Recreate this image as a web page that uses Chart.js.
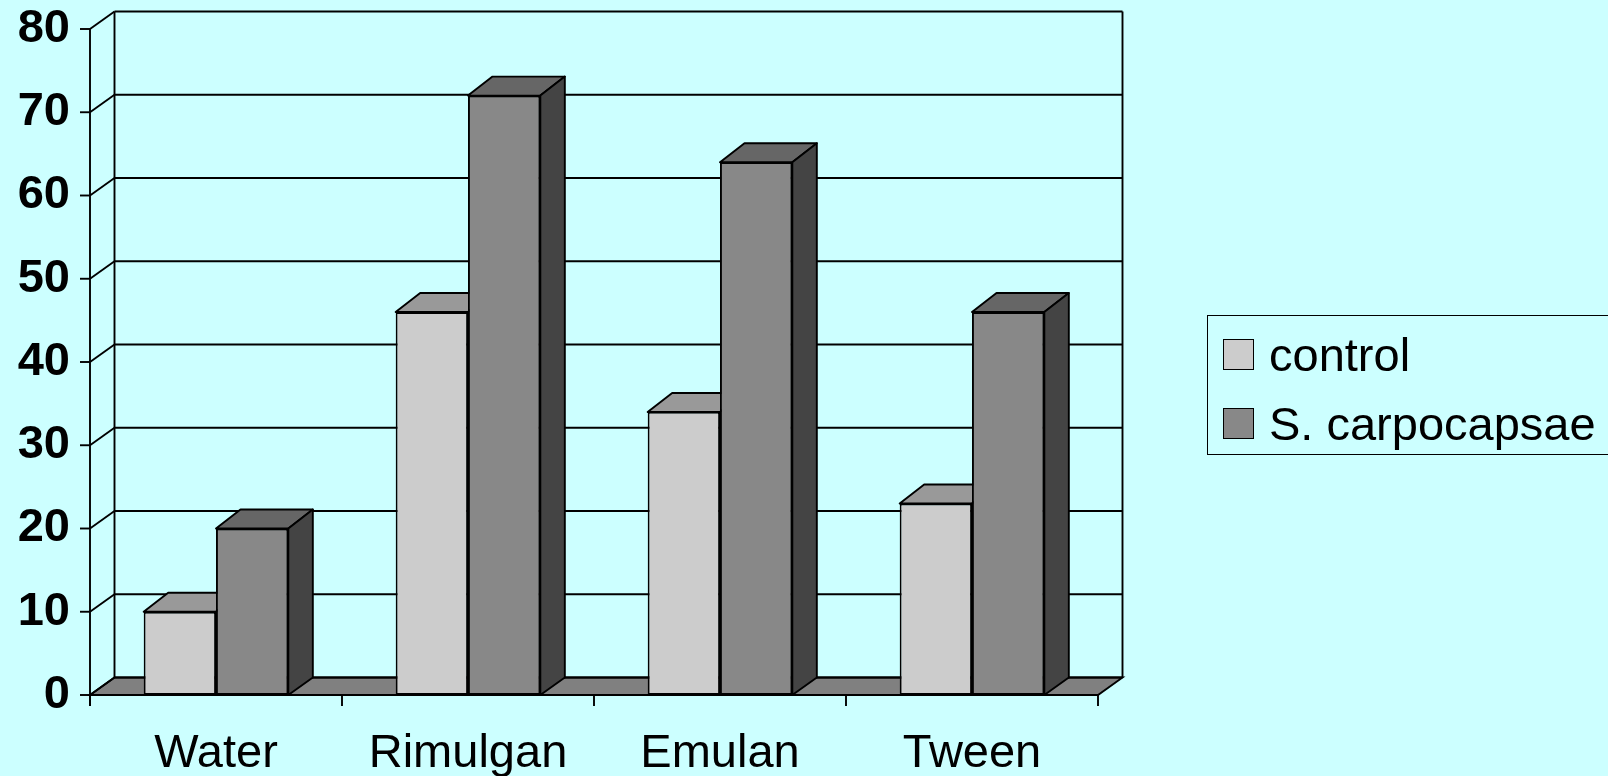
<!DOCTYPE html>
<html>
<head>
<meta charset="utf-8">
<script src="https://cdn.jsdelivr.net/npm/chart.js@4.4.1/dist/chart.umd.min.js"></script>
<style>
    body { margin: 0; background: #ccffff; overflow: hidden; font-family: "Liberation Sans", Arial, sans-serif; }
    #wrap { position: relative; width: 1608px; height: 776px; }
    #legend { position: absolute; left: 1207px; top: 315px; width: 430px; height: 140px; border: 1.5px solid #000; box-sizing: border-box; }
    .item { position: absolute; left: 15px; height: 31px; display: flex; align-items: center; font-size: 47px; white-space: nowrap; }
    .sw { width: 29px; height: 29px; border: 1px solid #000; margin-right: 15px; flex: none; }
</style>
</head>
<body>
<div id="wrap">
    <canvas id="chart"></canvas>
    <div id="legend"></div>
</div>
<script>
const categories = ["Water", "Rimulgan", "Emulan", "Tween"];
const control = [10, 46, 34, 23];
const carpocapsae = [20, 72, 64, 46];
const yMin = 0;
const yMax = 80;
const yStep = 10;

const DX = 24.5;    // depth offset of walls / floor
const DY = -17.5;
const BAR_DY = -19; // depth offset at bar tops
const LW = 1.9;

function line(ctx, x1, y1, x2, y2) {
    ctx.beginPath();
    ctx.moveTo(x1, y1);
    ctx.lineTo(x2, y2);
    ctx.stroke();
}

function poly(ctx, pts, fill) {
    ctx.beginPath();
    ctx.moveTo(pts[0][0], pts[0][1]);
    for (let i = 1; i < pts.length; i++) ctx.lineTo(pts[i][0], pts[i][1]);
    ctx.closePath();
    ctx.fillStyle = fill;
    ctx.fill();
    ctx.stroke();
}

function drawFaces(ctx, bar, ds) {
    const p = bar.getProps(["x", "y", "base", "width"], true);
    const l = p.x - p.width / 2;
    const r = p.x + p.width / 2;
    poly(ctx, [[l, p.y], [l + DX, p.y + BAR_DY], [r + DX, p.y + BAR_DY], [r, p.y]], ds.topColor);
    poly(ctx, [[r, p.y], [r + DX, p.y + BAR_DY], [r + DX, p.base + DY], [r, p.base]], ds.sideColor);
}

const box3d = {
    id: "box3d",
    beforeDatasetsDraw(chart) {
        const ctx = chart.ctx;
        const a = chart.chartArea;
        const xs = chart.scales.x;
        const ys = chart.scales.y;
        ctx.save();
        ctx.strokeStyle = "#000";
        ctx.lineWidth = LW;

        // floor
        poly(ctx, [[a.left, a.bottom], [a.right, a.bottom], [a.right + DX, a.bottom + DY], [a.left + DX, a.bottom + DY]], "#808080");

        // back wall grid, side wall diagonals, tick marks
        ys.ticks.forEach(t => {
            const py = ys.getPixelForValue(t.value);
            line(ctx, a.left + DX, py + DY, a.right + DX, py + DY);
            line(ctx, a.left, py, a.left + DX, py + DY);
            line(ctx, a.left - 10, py, a.left, py);
        });

        line(ctx, a.left, a.top, a.left, a.bottom + 11);
        line(ctx, a.left + DX, a.top + DY, a.left + DX, a.bottom + DY);
        line(ctx, a.right + DX, a.top + DY, a.right + DX, a.bottom + DY);

        // category separators below the floor
        const n = categories.length;
        const w = (xs.right - xs.left) / n;
        for (let i = 0; i <= n; i++) {
            line(ctx, xs.left + i * w, a.bottom, xs.left + i * w, a.bottom + 11);
        }
        ctx.restore();
    },
    afterDatasetsDraw(chart) {
        const ctx = chart.ctx;
        ctx.save();
        ctx.strokeStyle = "#000";
        ctx.lineWidth = LW;
        ctx.lineJoin = "round";
        // control first, then the taller S. carpocapsae bars in front of its faces
        chart.data.datasets.forEach((ds, i) => {
            const meta = chart.getDatasetMeta(i);
            meta.data.forEach(bar => {
                if (i > 0) {
                    ctx.save();
                    bar.draw(ctx);
                    ctx.restore();
                }
                drawFaces(ctx, bar, ds);
            });
        });
        ctx.restore();
    }
};

const datasets = [
    { label: "control", data: control, backgroundColor: "#cccccc", topColor: "#999999", sideColor: "#666666" },
    { label: "S. carpocapsae", data: carpocapsae, backgroundColor: "#888888", topColor: "#666666", sideColor: "#444444" }
];

new Chart(document.getElementById("chart"), {
    type: "bar",
    data: {
        labels: categories,
        datasets: datasets.map(d => ({
            label: d.label,
            data: d.data,
            backgroundColor: d.backgroundColor,
            borderColor: "#000",
            borderWidth: LW,
            borderSkipped: false,
            topColor: d.topColor,
            sideColor: d.sideColor,
            categoryPercentage: 0.574,
            barPercentage: 1
        }))
    },
    options: {
        responsive: true,
        maintainAspectRatio: false,
        animation: false,
        layout: { padding: { top: 29, right: 510, bottom: 0, left: 0 } },
        plugins: {
            legend: { display: false },
            tooltip: { enabled: false }
        },
        scales: {
            x: {
                grid: { display: false, drawTicks: false },
                border: { display: false },
                ticks: {
                    color: "#000",
                    padding: 31,
                    font: { family: "'Liberation Sans', Arial, sans-serif", size: 47 }
                },
                afterFit(scale) {
                    scale.height = 81;
                    scale.paddingLeft = 0;
                    scale.paddingRight = 0;
                }
            },
            y: {
                min: yMin,
                max: yMax,
                grid: { display: false, drawTicks: false },
                border: { display: false },
                ticks: {
                    stepSize: yStep,
                    color: "#000",
                    padding: 20,
                    font: { family: "'Liberation Sans', Arial, sans-serif", size: 47, weight: "bold" }
                },
                afterFit(scale) {
                    scale.width = 90;
                    scale.paddingTop = 0;
                    scale.paddingBottom = 0;
                }
            }
        }
    },
    plugins: [box3d]
});

// legend
const legend = document.getElementById("legend");
datasets.forEach((d, i) => {
    const item = document.createElement("div");
    item.className = "item";
    item.style.top = (23 + i * 69) + "px";
    const sw = document.createElement("div");
    sw.className = "sw";
    sw.style.background = d.backgroundColor;
    item.appendChild(sw);
    item.appendChild(document.createTextNode(d.label));
    legend.appendChild(item);
});
</script>
</body>
</html>
